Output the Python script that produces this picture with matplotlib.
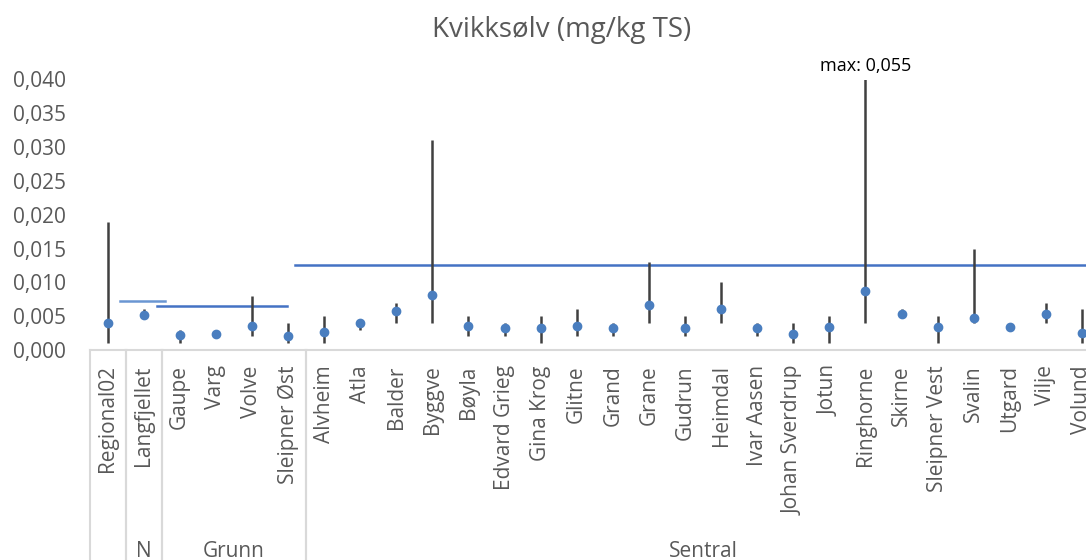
import numpy as np
import matplotlib.pyplot as plt
import matplotlib.transforms as mtransforms
from matplotlib.lines import Line2D

plt.rcParams['font.family'] = ['Open Sans', 'DejaVu Sans']

# Felt og gruppering
felt = ['Regional02', 'Langfjellet', 'Gaupe', 'Varg', 'Volve', 'Sleipner Øst',
        'Alvheim', 'Atla', 'Balder', 'Byggve', 'Bøyla', 'Edvard Grieg', 'Gina Krog',
        'Glitne', 'Grand', 'Grane', 'Gudrun', 'Heimdal', 'Ivar Aasen',
        'Johan Sverdrup', 'Jotun', 'Ringhorne', 'Skirne', 'Sleipner Vest',
        'Svalin', 'Utgard', 'Vilje', 'Volund']
grupper = ['', 'N', 'Grunn', 'Sentral']
gruppe_start = [0, 1, 2, 6]
gruppe_slutt = [1, 2, 6, 28]

# Kvikksølv (mg/kg TS): middel, min, maks
middel = [0.0040, 0.0052, 0.0022, 0.0023, 0.0036, 0.0021,
          0.0027, 0.0040, 0.0057, 0.0082, 0.0035, 0.0033, 0.0033,
          0.0035, 0.0032, 0.0067, 0.0032, 0.0061, 0.0032,
          0.0023, 0.0034, 0.0087, 0.0053, 0.0034,
          0.0048, 0.0034, 0.0053, 0.0025]
minimum = [0.001, 0.005, 0.001, 0.002, 0.002, 0.001,
           0.001, 0.003, 0.004, 0.004, 0.002, 0.002, 0.001,
           0.002, 0.002, 0.004, 0.002, 0.004, 0.002,
           0.001, 0.001, 0.004, 0.005, 0.001,
           0.004, 0.003, 0.004, 0.001]
maksimum = [0.019, 0.006, 0.003, 0.003, 0.008, 0.004,
            0.005, 0.004, 0.007, 0.031, 0.005, 0.004, 0.005,
            0.006, 0.004, 0.013, 0.005, 0.010, 0.004,
            0.004, 0.005, 0.055, 0.006, 0.005,
            0.015, 0.004, 0.007, 0.006]

# Referansenivå per region (bakgrunn)
ref_nivaa = [0.00725, 0.0065, 0.0125]
ref_fra = [0.35, 1.37, 5.19]
ref_til = [1.59, 4.97, 27.6]
ref_farge = ['#6A96D2', '#4472C4', '#4472C4']

x = np.arange(len(felt))

fig = plt.figure(figsize=(10.86, 5.6), dpi=100)
W, H = 1086, 560
ax = fig.add_axes([89.5 / W, (H - 350) / H, (1100 - 89.5) / W, (350 - 79.5) / H])

# horisontale linjer
for lvl, a, b, c in zip(ref_nivaa, ref_fra, ref_til, ref_farge):
    ax.plot([a, b], [lvl, lvl], color=c, lw=1.8, zorder=2)

# min-maks
ax.vlines(x, minimum, maksimum, color='#404040', lw=1.8, zorder=3)
ax.plot(x, middel, 'o', color='#4A7EBF', ms=6, zorder=4)

ax.set_xlim(-0.5, len(felt) - 0.5)
ax.set_ylim(0, 0.040)
yt = np.arange(0, 0.0401, 0.005)
ax.set_yticks(yt)
ax.set_yticklabels([f'{v:.3f}'.replace('.', ',') for v in yt])
ax.set_xticks(x)
ax.set_xticklabels(felt, rotation=90, va='top', ha='center')
ax.tick_params(axis='x', length=0, pad=11, labelsize=15, labelcolor='#595959')
ax.tick_params(axis='y', length=0, pad=17, labelsize=15, labelcolor='#595959')

for s in ['top', 'right', 'left']:
    ax.spines[s].set_visible(False)
ax.spines['bottom'].set_color('#D9D9D9')
ax.spines['bottom'].set_linewidth(1.5)

# maks-etikett for Ringhorne
i_max = int(np.argmax(maksimum))
ax.annotate('max: ' + f'{maksimum[i_max]:.3f}'.replace('.', ','),
            (x[i_max], 0.040), xytext=(0, 3), textcoords='offset points',
            ha='center', va='bottom', fontsize=13, color='black',
            annotation_clip=False)

# gruppeinndeling under aksen
trans = mtransforms.blended_transform_factory(ax.transData, fig.transFigure)
for g, a, b in zip(grupper, gruppe_start, gruppe_slutt):
    for xb in [a - 0.5, b - 0.5]:
        ax.add_line(Line2D([xb, xb], [(H - 350) / H, -0.05], transform=trans,
                           color='#D9D9D9', lw=1.5, clip_on=False))
    if g:
        ax.text((a + b - 1) / 2, (H - 557) / H, g, transform=trans,
                ha='center', va='baseline', fontsize=15, color='#595959')

fig.text(562 / W, (H - 37) / H, 'Kvikksølv (mg/kg TS)', ha='center',
         va='baseline', fontsize=20, color='#595959')

fig.savefig('out.png', dpi=100)
